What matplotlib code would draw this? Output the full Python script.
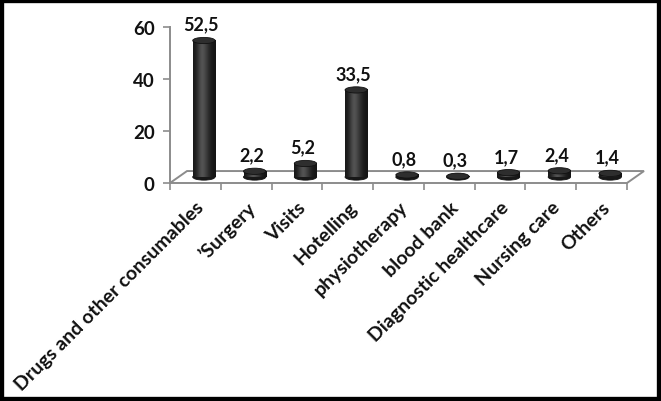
import matplotlib.pyplot as plt
import numpy as np
from matplotlib.patches import Ellipse, Polygon, Rectangle

categories = ["Drugs and other consumables", "\u2019Surgery", "Visits", "Hotelling",
              "physiotherapy", "blood bank", "Diagnostic healthcare", "Nursing care", "Others"]
values = [52.5, 2.2, 5.2, 33.5, 0.8, 0.3, 1.7, 2.4, 1.4]
value_labels = ["52,5", "2,2", "5,2", "33,5", "0,8", "0,3", "1,7", "2,4", "1,4"]
yticks = [0, 20, 40, 60]

plt.rcParams['font.family'] = ['Lato', 'DejaVu Sans']
plt.rcParams['font.weight'] = 'bold'

W, H = 661, 402
fig = plt.figure(figsize=(W / 100, H / 100), dpi=100)
fig.patch.set_facecolor('white')

ax = fig.add_axes([170 / W, (H - 184) / H, 457 / W, 156 / H])
n = len(categories)
ax.set_xlim(0, n)
ax.set_ylim(0, 60)

# pseudo 3d depth of the floor
dx, dy = 0.335, 4.6
grey = '#8c8c8c'

floor = Polygon([(0, 0), (n, 0), (n + dx, dy), (dx, dy)], closed=True,
                facecolor='white', edgecolor=grey, lw=1.4, clip_on=False, zorder=1)
ax.add_patch(floor)

# cylinders
bw = 0.44
eh = 2.4
grad = np.array([[0.10, 0.16, 0.26, 0.34, 0.30, 0.22, 0.15, 0.10, 0.08]])
for i, v in enumerate(values):
    cx = i + 0.5 + dx / 2
    base = dy / 2
    top = base + v
    ax.add_patch(Ellipse((cx, base), bw, eh, facecolor='#181818', edgecolor='#111111',
                         lw=0.6, clip_on=False, zorder=3))
    ax.imshow(grad, cmap='gray', vmin=0, vmax=1, aspect='auto', interpolation='bicubic',
              extent=[cx - bw / 2, cx + bw / 2, base, top], zorder=4, clip_on=False)
    ax.add_patch(Ellipse((cx, top), bw, eh, facecolor='#2e2e2e', edgecolor='#111111',
                         lw=0.6, clip_on=False, zorder=5))
    ax.text(cx - 0.05, top + eh / 2 + 1.8, value_labels[i], ha='center', va='bottom',
            fontsize=13, fontweight='bold', color='#111111', zorder=6)

ax.set_xlim(0, n)
ax.set_ylim(0, 60)

for s in ['top', 'right', 'bottom']:
    ax.spines[s].set_visible(False)
ax.spines['left'].set_color(grey)
ax.spines['left'].set_linewidth(1.4)

ax.set_yticks(yticks)
ax.set_yticklabels([str(t) for t in yticks], fontsize=13.5, fontweight='bold', color='#111111')
ax.tick_params(axis='y', length=5, width=1.2, color=grey, pad=6)

ax.set_xticks(range(n + 1))
ax.set_xticklabels([])
ax.tick_params(axis='x', which='major', length=5, width=1.2, color=grey)
ax.set_xticks([i + 0.5 for i in range(n)], minor=True)
ax.set_xticklabels(categories, minor=True, rotation=45, ha='right', va='top',
                   rotation_mode='anchor', fontsize=14, fontweight='bold', color='#111111')
ax.tick_params(axis='x', which='minor', length=0, pad=11)
ax.set_facecolor('none')

# outer frame
fig.add_artist(Rectangle((0, 0), 1, 1, transform=fig.transFigure, fill=False,
                         edgecolor='black', lw=6))

fig.savefig('out.png', dpi=100)
